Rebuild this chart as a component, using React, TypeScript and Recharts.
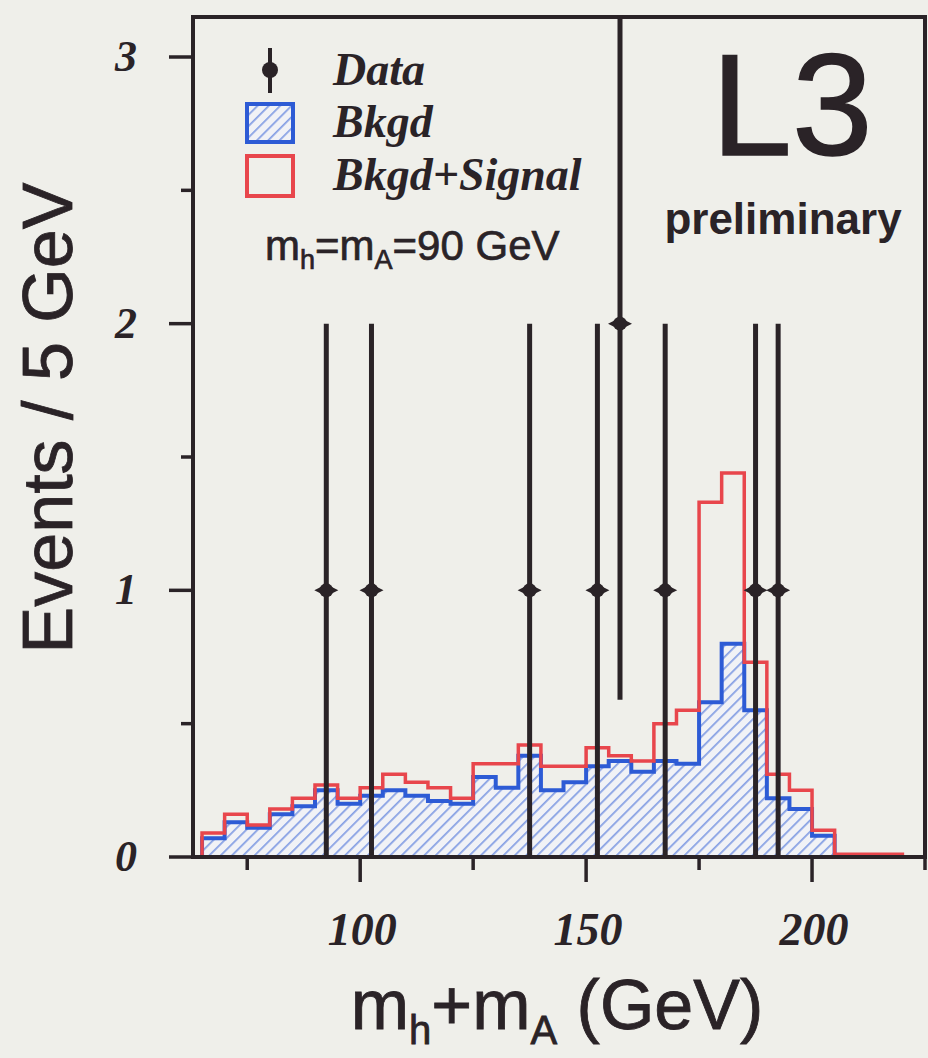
import React from 'react'
import {
  ComposedChart,
  XAxis,
  YAxis,
  Area,
  Line,
  Scatter,
  ErrorBar,
  ReferenceArea,
} from 'recharts'

// 5 GeV bins, lower edges 65..215, last edge 220
const binEdges = [
  65, 70, 75, 80, 85, 90, 95, 100, 105, 110, 115, 120, 125, 130, 135, 140, 145, 150, 155, 160,
  165, 170, 175, 180, 185, 190, 195, 200, 205, 210, 215, 220,
]
const bkgdPlusSignal = [
  0.09, 0.16, 0.12, 0.18, 0.22, 0.27, 0.22, 0.26, 0.31, 0.28, 0.26, 0.22, 0.35, 0.35, 0.42, 0.34,
  0.34, 0.41, 0.38, 0.36, 0.5, 0.55, 1.33, 1.44, 0.73, 0.31, 0.25, 0.1, 0.01, 0.01, 0.01,
]
const bkgd = [
  0.07, 0.13, 0.11, 0.16, 0.19, 0.25, 0.2, 0.23, 0.25, 0.23, 0.21, 0.2, 0.3, 0.26, 0.38, 0.25,
  0.28, 0.34, 0.36, 0.32, 0.36, 0.35, 0.58, 0.8, 0.55, 0.22, 0.18, 0.08, 0, 0, 0,
]

const dataMass = [92.5, 102.5, 137.5, 152.5, 157.5, 167.5, 187.5, 192.5]
const dataEvents = [1, 1, 1, 1, 2, 1, 1, 1]
const dataError = [1, 1, 1, 1, 1.41, 1, 1, 1]

const xTicks = [75, 100, 125, 150, 175, 200, 225]
const xLabelled = [100, 150, 200]
const yTicks = [0, 0.5, 1, 1.5, 2, 2.5, 3]
const yLabelled = [0, 1, 2, 3]

const BG = '#efefea'
const INK = '#2a2327'
const RED = '#e8464c'
const BLUE = '#2d5bd5'
const HATCH = '#86a0e4'
const SERIF = '"Liberation Serif", "Times New Roman", serif'
const SANS = '"Liberation Sans", Arial, Helvetica, sans-serif'

const histRows: { m: number; bkgd: number; total: number }[] = [{ m: binEdges[0], bkgd: 0, total: 0 }]
binEdges.forEach((edge, i) => {
  const j = Math.min(i, bkgd.length - 1)
  histRows.push({ m: edge, bkgd: bkgd[j], total: bkgdPlusSignal[j] })
})
histRows.push({ m: binEdges[binEdges.length - 1], bkgd: 0, total: 0 })

const pointRows = dataMass.map((m, i) => ({ m, events: dataEvents[i], err: dataError[i] }))

function XTick(props: any) {
  const { x, y, payload } = props
  const major = xLabelled.includes(payload.value)
  return (
    <g>
      <line x1={x} x2={x} y1={y} y2={y + (major ? 25 : 13)} stroke={INK} strokeWidth={3.5} />
      {major && (
        <text
          x={x + 2}
          y={y + 88}
          textAnchor="middle"
          fontFamily={SERIF}
          fontStyle="italic"
          fontWeight="bold"
          fontSize={46}
          fill={INK}
        >
          {payload.value}
        </text>
      )}
    </g>
  )
}

function YTick(props: any) {
  const { x, y, payload } = props
  const major = yLabelled.includes(payload.value)
  return (
    <g>
      <line x1={x} x2={x - (major ? 24 : 12)} y1={y} y2={y} stroke={INK} strokeWidth={3.5} />
      {major && (
        <text
          x={x - 67}
          y={y + 14}
          textAnchor="middle"
          fontFamily={SERIF}
          fontStyle="italic"
          fontWeight="bold"
          fontSize={44}
          fill={INK}
        >
          {payload.value}
        </text>
      )}
    </g>
  )
}

function XLabel(props: any) {
  const { viewBox } = props
  const cx = viewBox.x + viewBox.width / 2 - 2
  const y = viewBox.y + 172
  return (
    <text x={cx} y={y} textAnchor="middle" fontFamily={SANS} fontSize={70} fill={INK} stroke={INK} strokeWidth={0.8}>
      m
      <tspan fontSize={40} dy={15}>h</tspan>
      <tspan dy={-15}>+m</tspan>
      <tspan fontSize={40} dy={15}>A</tspan>
      <tspan dy={-15}> (GeV)</tspan>
    </text>
  )
}

function YLabel(props: any) {
  const { viewBox } = props
  const x = viewBox.x + 72
  const y = viewBox.y + viewBox.height / 2 - 19
  return (
    <text
      x={x}
      y={y}
      transform={`rotate(-90, ${x}, ${y})`}
      textAnchor="middle"
      fontFamily={SANS}
      fontSize={70}
      fill={INK}
      stroke={INK}
      strokeWidth={0.8}
    >
      Events / 5 GeV
    </text>
  )
}

function DataMarker(props: any) {
  const { cx, cy } = props
  return (
    <g>
      <polygon points={`${cx - 12},${cy} ${cx},${cy - 6} ${cx + 12},${cy} ${cx},${cy + 6}`} fill={INK} />
      <circle cx={cx} cy={cy} r={7} fill={INK} />
    </g>
  )
}

export default function App() {
  return (
    <div style={{ position: 'absolute', left: 0, top: 0, width: 928, height: 1058, background: BG }}>
      <ComposedChart width={928} height={1058} margin={{ top: 17, right: 3, bottom: 0, left: 0 }}>
        <defs>
          <pattern id="hatch" width="8" height="8" patternUnits="userSpaceOnUse" patternTransform="rotate(45)">
            <rect width="8" height="8" fill="#f1f2f6" />
            <line x1="0" y1="0" x2="0" y2="8" stroke={HATCH} strokeWidth={3.5} />
          </pattern>
        </defs>
        <XAxis
          type="number"
          dataKey="m"
          domain={[63, 225]}
          ticks={xTicks}
          interval={0}
          allowDataOverflow
          height={201}
          axisLine={{ stroke: INK, strokeWidth: 4 }}
          tickLine={false}
          tickSize={0}
          tickMargin={0}
          tick={XTick}
          label={{ content: XLabel }}
        />
        <YAxis
          type="number"
          domain={[0, 3.15]}
          ticks={yTicks}
          interval={0}
          allowDataOverflow
          width={193}
          axisLine={{ stroke: INK, strokeWidth: 4 }}
          tickLine={false}
          tickSize={0}
          tickMargin={0}
          tick={YTick}
          label={{ content: YLabel }}
        />
        <ReferenceArea x1={63} x2={225} y1={0} y2={3.15} fill="none" stroke={INK} strokeWidth={4} ifOverflow="visible" />
        <Area
          data={histRows}
          dataKey="bkgd"
          type="stepAfter"
          fill="url(#hatch)"
          fillOpacity={1}
          stroke={BLUE}
          strokeWidth={4}
          dot={false}
          activeDot={false}
          isAnimationActive={false}
        />
        <Line
          data={histRows}
          dataKey="total"
          type="stepAfter"
          stroke={RED}
          strokeWidth={3.5}
          dot={false}
          activeDot={false}
          isAnimationActive={false}
        />
        <Scatter data={pointRows} dataKey="events" shape={DataMarker} isAnimationActive={false}>
          <ErrorBar dataKey="err" direction="y" width={0} stroke={INK} strokeWidth={5} />
        </Scatter>

        {/* legend and captions */}
        <g>
          <line x1={270} x2={270} y1={48} y2={93} stroke={INK} strokeWidth={4} />
          <circle cx={270} cy={70} r={8} fill={INK} />
          <rect x={247} y={104} width={46} height={38} fill="url(#hatch)" stroke={BLUE} strokeWidth={4} />
          <rect x={247} y={156} width={46} height={40} fill="none" stroke={RED} strokeWidth={4} />
          <text x={333} y={85} fontFamily={SERIF} fontStyle="italic" fontWeight="bold" fontSize={46} fill={INK}>
            Data
          </text>
          <text x={333} y={137} fontFamily={SERIF} fontStyle="italic" fontWeight="bold" fontSize={46} fill={INK}>
            Bkgd
          </text>
          <text x={333} y={190} fontFamily={SERIF} fontStyle="italic" fontWeight="bold" fontSize={46} fill={INK}>
            Bkgd+Signal
          </text>
          <text x={265} y={260} fontFamily={SANS} fontSize={42} fill={INK} stroke={INK} strokeWidth={0.7}>
            m<tspan fontSize={27} dy={9}>h</tspan>
            <tspan dy={-9}>=m</tspan>
            <tspan fontSize={27} dy={9}>A</tspan>
            <tspan dy={-9}>=90 GeV</tspan>
          </text>
          <text
            x={792}
            y={155}
            textAnchor="middle"
            fontFamily={SANS}
            fontSize={145}
            fill={INK}
            stroke={INK}
            strokeWidth={1.5}
          >
            L3
          </text>
          <text x={783} y={234} textAnchor="middle" fontFamily={SANS} fontWeight="bold" fontSize={44} fill={INK}>
            preliminary
          </text>
        </g>
      </ComposedChart>
      {/* the error bar of the 2-event bin runs past the top of the frame; the frame cuts it off */}
      <div style={{ position: 'absolute', left: 0, top: 0, width: 928, height: 15, background: BG }} />
    </div>
  )
}
